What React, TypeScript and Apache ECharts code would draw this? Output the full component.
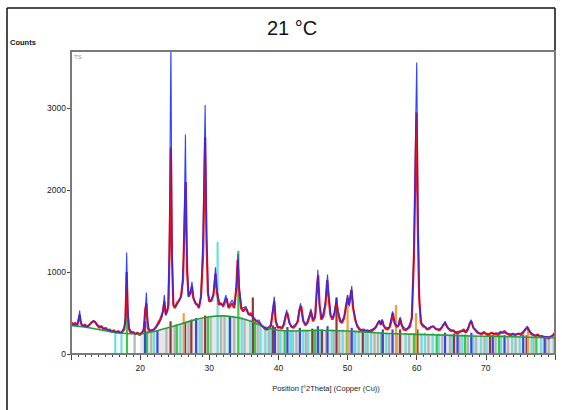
import React, { useEffect, useRef } from "react";
import * as echarts from "echarts";

// Observed diffraction pattern: [2θ (°), counts]
const OBSERVED: [number, number][] = [
  [10.0, 390], [10.3, 360], [10.6, 380], [10.9, 350], [11.1, 420], [11.25, 480], [11.45, 370],
  [11.7, 340], [12.0, 360], [12.3, 330], [12.6, 350], [12.9, 380], [13.2, 400], [13.5, 390],
  [13.8, 350], [14.1, 320], [14.4, 340], [14.7, 300], [15.0, 320], [15.3, 290], [15.6, 300],
  [15.9, 270], [16.2, 290], [16.5, 260], [16.8, 280], [17.1, 255], [17.4, 270], [17.7, 300],
  [17.9, 450], [18.05, 1000], [18.2, 500], [18.4, 300], [18.7, 250], [19.0, 270], [19.3, 240],
  [19.6, 260], [19.9, 230], [20.2, 255], [20.5, 280], [20.75, 550], [20.9, 620], [21.1, 320],
  [21.4, 270], [21.7, 290], [22.0, 300], [22.3, 330], [22.6, 380], [22.9, 420], [23.1, 470],
  [23.3, 520], [23.5, 640], [23.7, 480], [23.9, 520], [24.1, 600], [24.3, 1500], [24.45, 2520],
  [24.6, 1200], [24.8, 600], [25.0, 560], [25.3, 620], [25.6, 650], [25.9, 700], [26.2, 900],
  [26.45, 1700], [26.6, 2100], [26.8, 1000], [27.0, 700], [27.3, 750], [27.5, 820], [27.7, 680],
  [28.0, 620], [28.3, 600], [28.5, 560], [28.8, 700], [29.1, 1200], [29.4, 2650], [29.6, 1400],
  [29.8, 750], [30.0, 640], [30.3, 650], [30.6, 720], [30.9, 980], [31.1, 760], [31.4, 600],
  [31.7, 620], [32.0, 580], [32.3, 640], [32.5, 680], [32.8, 560], [33.1, 600], [33.3, 620],
  [33.6, 560], [33.9, 800], [34.1, 1150], [34.3, 800], [34.6, 560], [34.9, 520], [35.2, 560],
  [35.4, 540], [35.7, 480], [36.0, 500], [36.2, 470], [36.5, 430], [36.8, 400], [37.1, 390],
  [37.4, 360], [37.7, 340], [38.0, 310], [38.3, 300], [38.6, 310], [38.9, 340], [39.2, 520],
  [39.4, 640], [39.6, 400], [39.9, 320], [40.2, 330], [40.5, 310], [40.8, 360], [41.1, 480],
  [41.3, 500], [41.6, 380], [41.9, 330], [42.2, 320], [42.5, 350], [42.8, 400], [43.1, 560],
  [43.3, 580], [43.6, 400], [43.9, 350], [44.2, 380], [44.5, 460], [44.7, 520], [45.0, 400],
  [45.3, 450], [45.6, 850], [45.75, 960], [45.95, 600], [46.2, 420], [46.5, 460], [46.8, 600],
  [47.05, 900], [47.25, 700], [47.5, 480], [47.8, 420], [48.1, 500], [48.4, 640], [48.6, 520],
  [48.9, 400], [49.2, 380], [49.5, 440], [49.8, 600], [50.0, 680], [50.2, 600], [50.55, 780],
  [50.8, 560], [51.1, 420], [51.4, 340], [51.7, 300], [52.0, 290], [52.3, 300], [52.6, 280],
  [52.9, 290], [53.2, 270], [53.5, 280], [53.8, 300], [54.1, 330], [54.4, 380], [54.6, 400],
  [54.8, 360], [55.0, 410], [55.2, 350], [55.5, 310], [55.8, 300], [56.1, 330], [56.4, 420],
  [56.55, 500], [56.8, 380], [57.1, 330], [57.4, 350], [57.6, 430], [57.8, 360], [58.1, 300],
  [58.4, 290], [58.7, 310], [59.0, 330], [59.3, 450], [59.6, 1200], [59.85, 2400], [59.98, 2950],
  [60.15, 1600], [60.35, 700], [60.6, 380], [60.9, 340], [61.2, 330], [61.5, 300], [61.8, 310],
  [62.1, 330], [62.4, 340], [62.7, 310], [63.0, 300], [63.3, 290], [63.6, 320], [63.9, 360],
  [64.1, 380], [64.4, 330], [64.7, 300], [65.0, 280], [65.3, 290], [65.6, 260], [65.9, 250],
  [66.2, 270], [66.5, 280], [66.8, 300], [67.1, 260], [67.4, 300], [67.7, 380], [67.9, 400],
  [68.2, 320], [68.5, 290], [68.8, 260], [69.1, 250], [69.4, 240], [69.7, 270], [70.0, 250],
  [70.3, 230], [70.6, 250], [70.9, 260], [71.2, 240], [71.5, 250], [71.8, 230], [72.1, 270],
  [72.4, 260], [72.7, 280], [73.0, 250], [73.3, 240], [73.6, 220], [73.9, 250], [74.2, 230],
  [74.5, 240], [74.8, 250], [75.1, 230], [75.4, 260], [75.7, 300], [76.0, 320], [76.3, 280],
  [76.6, 240], [76.9, 230], [77.2, 220], [77.5, 240], [77.8, 210], [78.1, 220], [78.4, 200],
  [78.7, 210], [79.0, 190], [79.3, 200], [79.6, 220], [80.0, 260],
];

// Calculated profile: [2θ (°), counts]
const CALCULATED: [number, number][] = [
  [10.0, 360], [10.5, 350], [11.0, 370], [11.15, 450], [11.25, 530], [11.4, 400], [11.7, 340],
  [12.3, 330], [12.9, 370], [13.3, 410], [13.8, 360], [14.5, 320], [15.5, 290], [16.5, 270],
  [17.3, 265], [17.8, 350], [17.95, 800], [18.05, 1240], [18.2, 600], [18.4, 320], [18.8, 265],
  [19.5, 250], [20.2, 255], [20.6, 330], [20.8, 600], [20.9, 750], [21.05, 450], [21.3, 300],
  [21.8, 290], [22.3, 320], [22.8, 380], [23.2, 460], [23.5, 720], [23.7, 470], [24.0, 550],
  [24.2, 1200], [24.45, 3800], [24.6, 1300], [24.8, 600], [25.2, 580], [25.6, 640], [26.0, 720],
  [26.3, 1200], [26.55, 2680], [26.75, 1200], [27.0, 700], [27.3, 780], [27.5, 880], [27.7, 700],
  [28.1, 600], [28.5, 580], [28.8, 700], [29.1, 1500], [29.4, 3040], [29.6, 1500], [29.85, 720],
  [30.2, 640], [30.6, 740], [30.9, 1060], [31.1, 780], [31.5, 620], [32.0, 600], [32.4, 720],
  [32.7, 580], [33.3, 660], [33.7, 600], [34.0, 900], [34.15, 1220], [34.35, 800], [34.7, 560],
  [35.3, 580], [35.7, 480], [36.2, 460], [36.7, 410], [37.2, 415], [37.6, 340], [38.3, 310],
  [38.9, 360], [39.25, 600], [39.4, 700], [39.6, 420], [40.0, 320], [40.6, 330], [41.0, 460],
  [41.2, 540], [41.5, 390], [42.0, 330], [42.7, 380], [43.05, 560], [43.2, 620], [43.5, 420],
  [44.0, 360], [44.5, 480], [44.7, 550], [45.0, 420], [45.4, 500], [45.7, 1030], [45.9, 620],
  [46.3, 430], [46.8, 640], [47.1, 970], [47.3, 720], [47.6, 460], [48.0, 450], [48.4, 690],
  [48.6, 520], [49.1, 390], [49.6, 480], [50.0, 720], [50.25, 580], [50.6, 830], [50.85, 560],
  [51.3, 360], [52.0, 290], [53.0, 280], [54.0, 320], [54.6, 415], [54.8, 350], [55.0, 425],
  [55.3, 330], [56.0, 320], [56.5, 520], [56.8, 370], [57.3, 340], [57.6, 450], [57.9, 340],
  [58.6, 300], [59.3, 420], [59.6, 1300], [59.85, 2800], [60.0, 3560], [60.2, 1700], [60.4, 600],
  [60.7, 380], [61.5, 310], [62.3, 340], [62.8, 300], [63.5, 310], [64.1, 400], [64.5, 320],
  [65.5, 270], [66.5, 280], [67.0, 270], [67.5, 330], [67.85, 420], [68.2, 320], [69.0, 260],
  [70.0, 250], [71.0, 250], [72.0, 260], [73.0, 255], [74.0, 240], [75.0, 250], [75.5, 280],
  [76.0, 340], [76.4, 270], [77.0, 235], [78.0, 220], [79.0, 210], [80.0, 230],
];

// Fitted background: [2θ (°), counts]
const BACKGROUND: [number, number][] = [
  [10, 350], [12, 330], [14, 300], [16, 265], [18, 250], [20, 245], [22, 275], [24, 320],
  [26, 370], [28, 420], [30, 455], [32, 465], [34, 445], [36, 400], [38, 330], [40, 290],
  [42, 280], [44, 285], [46, 290], [48, 285], [50, 280], [52, 270], [54, 260], [56, 250],
  [58, 245], [60, 240], [64, 230], [68, 220], [72, 215], [76, 205], [80, 200],
];

// Reference stick patterns of the identified phases: [2θ (°), counts]
const PHASE_CYAN: [number, number][] = [
  [16.4, 250], [17.3, 250], [22.0, 270], [25.8, 360], [28.6, 420], [31.2, 1370], [32.9, 450],
  [34.7, 450], [35.9, 420], [37.4, 380], [38.1, 320], [38.9, 300], [40.3, 300], [41.7, 290],
  [42.1, 300], [43.6, 300], [44.3, 290], [46.0, 300], [47.7, 300], [49.3, 300], [50.9, 290],
  [51.6, 290], [52.6, 280], [53.4, 270], [55.6, 260], [58.4, 260], [60.7, 250], [61.2, 260],
  [62.3, 260], [63.2, 250], [65.1, 240], [66.6, 240], [68.2, 240], [69.3, 230], [70.1, 230],
  [72.2, 230], [73.8, 220], [74.9, 220], [76.6, 220], [78.0, 210], [79.8, 210],
];
const PHASE_GREEN: [number, number][] = [
  [18.1, 850], [21.0, 280], [25.3, 360], [29.8, 450], [34.2, 1260], [36.6, 400], [40.9, 290],
  [45.3, 300], [49.9, 290], [54.9, 270], [59.6, 250], [62.9, 240], [67.0, 240], [71.9, 220],
  [77.3, 220],
];
const PHASE_BLUE: [number, number][] = [
  [20.7, 400], [22.5, 290], [26.5, 380], [28.1, 440], [33.0, 460], [39.5, 330], [41.3, 330],
  [43.1, 320], [45.7, 340], [47.1, 340], [50.6, 320], [55.1, 300], [56.5, 300], [64.1, 260],
  [65.9, 240], [67.9, 260], [71.0, 230], [72.7, 230], [75.4, 230], [78.5, 210],
];
const PHASE_BROWN: [number, number][] = [
  [24.4, 400], [27.4, 420], [29.4, 470], [36.3, 690], [39.2, 350], [44.9, 310], [46.3, 300],
  [48.4, 690], [52.2, 280], [57.6, 300], [60.1, 300], [65.4, 250], [70.6, 230], [75.9, 230],
];
const PHASE_GRAY: [number, number][] = [
  [19.2, 245], [21.6, 270], [23.8, 320], [25.0, 350], [27.0, 400], [28.9, 430], [30.2, 460],
  [31.7, 460], [32.2, 460], [33.6, 450], [35.1, 430], [37.0, 370], [38.6, 320], [40.0, 290],
  [41.9, 280], [42.6, 290], [44.0, 285], [45.0, 290], [46.9, 290], [48.0, 285], [48.8, 285],
  [50.3, 280], [51.1, 290], [52.9, 265], [53.9, 260], [54.4, 260], [56.0, 250], [57.2, 250],
  [58.9, 245], [61.7, 240], [63.7, 235], [64.8, 230], [66.2, 230], [67.4, 225], [68.6, 230],
  [69.8, 220], [71.4, 220], [73.2, 215], [74.3, 220], [76.9, 210], [78.7, 205], [79.1, 210],
];
const PHASE_ORANGE: [number, number][] = [
  [26.3, 500], [50.0, 720], [57.0, 600], [59.9, 500], [76.1, 330],
];

const Y_TICKS = [0, 1000, 2000, 3000];

const stickSeries = (name: string, data: [number, number][], color: string, width = 2.2) => ({
  type: "custom",
  name,
  data,
  clip: true,
  silent: true,
  encode: { x: 0, y: 1 },
  z: 2,
  renderItem: (_params: any, api: any) => {
    const x = api.value(0);
    const h = api.value(1);
    const base = api.coord([x, 0]);
    const top = api.coord([x, h]);
    return {
      type: "rect",
      shape: { x: base[0] - width / 2, y: top[1], width, height: base[1] - top[1] },
      style: { fill: color },
    };
  },
});

export default function App() {
  const ref = useRef<HTMLDivElement>(null);

  useEffect(() => {
    if (!ref.current) return;
    const chart = echarts.init(ref.current, null, { renderer: "svg" });
    const font = "Liberation Sans, Arial, sans-serif";
    const frame = { stroke: "#111", lineWidth: 1.5 };

    chart.setOption({
      animation: false,
      backgroundColor: "#ffffff",
      grid: {
        left: 71,
        top: 51,
        right: 7,
        bottom: 56,
        show: false,
      },
      xAxis: {
        type: "value",
        min: 10,
        max: 80,
        interval: 10,
        axisLine: { show: true, onZero: false, lineStyle: { color: "#6a6a6a", width: 1.5 } },
        axisTick: { show: true, inside: false, length: 6, lineStyle: { color: "#444", width: 1 } },
        minorTick: { show: true, splitNumber: 10, length: 3, lineStyle: { color: "#444", width: 1 } },
        splitLine: { show: false },
        axisLabel: {
          showMinLabel: false,
          showMaxLabel: false,
          color: "#222",
          fontFamily: font,
          fontSize: 8.5,
          margin: 9,
        },
      },
      yAxis: {
        type: "value",
        min: 0,
        max: 3700,
        interval: 1000,
        axisLine: { show: true, lineStyle: { color: "#6a6a6a", width: 1.5 } },
        axisTick: { show: true, inside: false, length: 4, lineStyle: { color: "#444", width: 1 } },
        splitLine: { show: false },
        axisLabel: {
          showMaxLabel: false,
          color: "#222",
          fontFamily: font,
          fontSize: 8.5,
          margin: 5,
          formatter: (v: number) => (Y_TICKS.includes(v) ? String(v) : ""),
        },
      },
      series: [
        {
          type: "line",
          name: "fill",
          data: BACKGROUND.filter((p) => p[0] >= 20),
          symbol: "none",
          silent: true,
          lineStyle: { width: 0 },
          areaStyle: { color: "#e6e6e6", opacity: 1 },
          z: 1,
        },
        stickSeries("gray", PHASE_GRAY, "#b4b4b4"),
        stickSeries("cyan", PHASE_CYAN, "#6fdede"),
        stickSeries("green", PHASE_GREEN, "#33cc44"),
        stickSeries("blue", PHASE_BLUE, "#3a44dd"),
        stickSeries("brown", PHASE_BROWN, "#8b3b3b"),
        stickSeries("orange", PHASE_ORANGE, "#f0a040"),
        {
          type: "line",
          name: "observed",
          data: OBSERVED,
          symbol: "none",
          clip: true,
          silent: true,
          lineStyle: { color: "#f01010", width: 2.2 },
          z: 3,
        },
        {
          type: "line",
          name: "background",
          data: BACKGROUND,
          symbol: "none",
          smooth: 0.3,
          clip: true,
          silent: true,
          lineStyle: { color: "#2a9a3a", width: 1.6 },
          z: 4,
        },
        {
          type: "line",
          name: "calculated",
          data: CALCULATED,
          symbol: "none",
          clip: true,
          silent: true,
          lineStyle: { color: "#1a2cff", width: 1.1, opacity: 0.9 },
          z: 5,
        },
      ],
      graphic: [
        { type: "line", shape: { x1: 7, y1: 8, x2: 7, y2: 420 }, style: frame, silent: true },
        { type: "line", shape: { x1: 7, y1: 8, x2: 555, y2: 8 }, style: frame, silent: true },
        { type: "line", shape: { x1: 555, y1: 8, x2: 555, y2: 51 }, style: frame, silent: true },
        {
          type: "rect",
          shape: { x: 71, y: 51, width: 484, height: 303 },
          style: { fill: "none", stroke: "#7a7a7a", lineWidth: 2 },
          silent: true,
          z: 10,
        },
        {
          type: "text",
          x: 292,
          y: 28,
          style: {
            text: "21 °C",
            font: `20px ${font}`,
            fill: "#111",
            align: "center",
            verticalAlign: "middle",
          },
        },
        {
          type: "text",
          x: 10,
          y: 42,
          style: { text: "Counts", font: `bold 7.5px ${font}`, fill: "#111", verticalAlign: "middle" },
        },
        {
          type: "text",
          x: 74,
          y: 57,
          style: { text: "TS", font: `6px ${font}`, fill: "#b08a60", verticalAlign: "middle" },
        },
        {
          type: "text",
          x: 326,
          y: 388,
          style: {
            text: "Position [°2Theta] (Copper (Cu))",
            font: `7.5px ${font}`,
            fill: "#222",
            align: "center",
            verticalAlign: "middle",
          },
        },
      ],
    });

    return () => chart.dispose();
  }, []);

  return <div ref={ref} style={{ width: 562, height: 410, position: "absolute", left: 0, top: 0 }} />;
}
